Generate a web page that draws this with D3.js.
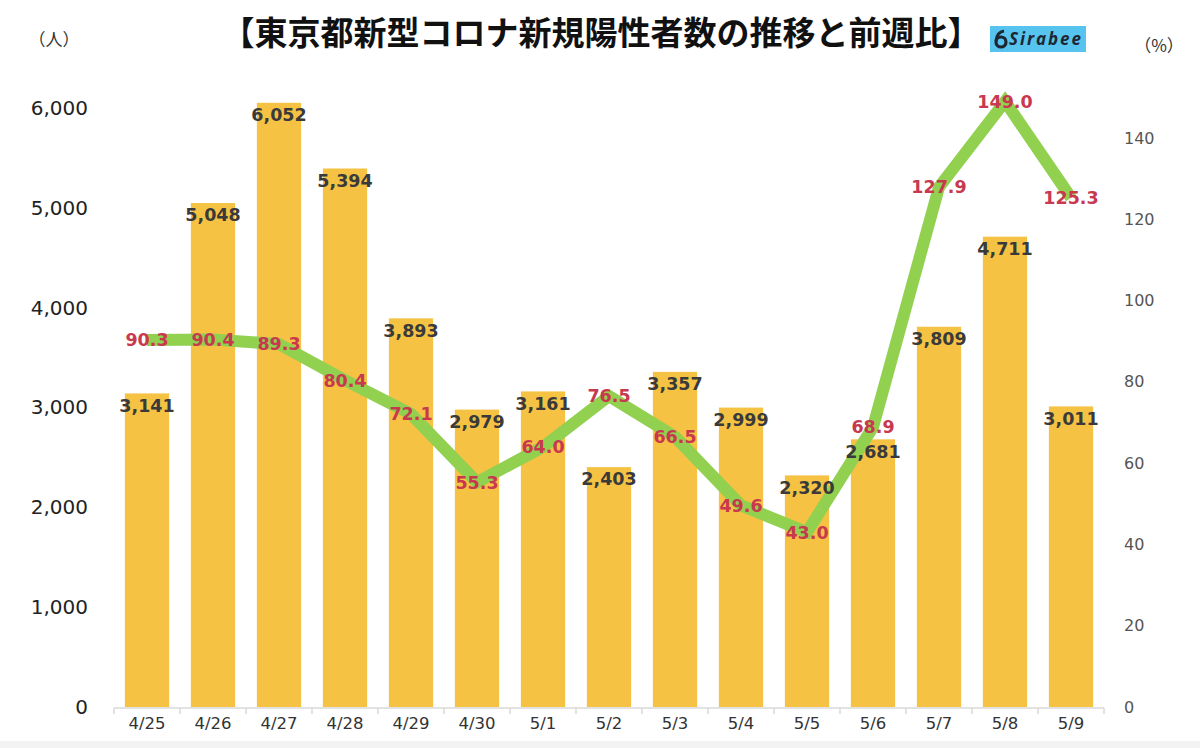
<!DOCTYPE html>
<html><head><meta charset="utf-8">
<script src="https://cdn.jsdelivr.net/npm/d3@7"></script>
<style>body{margin:0;background:#fff}svg{display:block}</style>
</head><body>
<script>
const categories = ["4/25","4/26","4/27","4/28","4/29","4/30","5/1","5/2","5/3","5/4","5/5","5/6","5/7","5/8","5/9"];
const positives = [3141,5048,6052,5394,3893,2979,3161,2403,3357,2999,2320,2681,3809,4711,3011];
const weekRatio = [90.3,90.4,89.3,80.4,72.1,55.3,64.0,76.5,66.5,49.6,43.0,68.9,127.9,149.0,125.3];
const leftTicks = [0,1000,2000,3000,4000,5000,6000];
const rightTicks = [0,20,40,60,80,100,120,140];
const title = "【東京都新型コロナ新規陽性者数の推移と前週比】";

const W = 1200, H = 748;
const svg = d3.select("body").append("svg").attr("width", W).attr("height", H);
svg.append("rect").attr("x",0).attr("y",0).attr("width",W).attr("height",H).attr("fill","#fff");
svg.append("rect").attr("x",0).attr("y",741).attr("width",W).attr("height",7).attr("fill","#f3f3f3");

const x = d3.scaleBand().domain(categories).range([114,1104]).paddingInner(0.33).paddingOuter(0.165);
const yL = d3.scaleLinear().domain([0,6000]).range([707,108]);
const yR = d3.scaleLinear().domain([0,140]).range([707,138]);

const numFont = "'DejaVu Sans', sans-serif";

// bars
svg.append("g").selectAll("rect").data(positives).join("rect")
  .attr("x",(d,i)=>x(categories[i]))
  .attr("y",d=>yL(d))
  .attr("width",x.bandwidth())
  .attr("height",d=>yL(0)-yL(d))
  .attr("fill","#F5C243");

// x axis baseline & ticks
const xg = svg.append("g");
xg.append("line").attr("x1",114).attr("x2",1104).attr("y1",708).attr("y2",708).attr("stroke","#d9d9d9").attr("stroke-width",1.5);
const bounds = categories.map(c=>x(c)-x.step()*x.paddingInner()/2).concat([1104]);
xg.selectAll("line.t").data(bounds).join("line").attr("class","t")
  .attr("x1",d=>d).attr("x2",d=>d).attr("y1",708).attr("y2",714).attr("stroke","#d9d9d9").attr("stroke-width",1.5);
const xAxis = d3.axisBottom(x).tickSize(0).tickPadding(9);
const xa = svg.append("g").attr("transform","translate(0,708)").call(xAxis);
xa.select(".domain").remove();
xa.selectAll("text").attr("font-family",numFont).attr("font-size",16.5).attr("fill","#333");

// left axis
const la = svg.append("g").attr("transform","translate(88,0)")
  .call(d3.axisLeft(yL).tickValues(leftTicks).tickFormat(d3.format(",")).tickSize(0).tickPadding(0));
la.select(".domain").remove();
la.selectAll("text").attr("font-family",numFont).attr("font-size",20).attr("fill","#222");

// right axis
const ra = svg.append("g").attr("transform","translate(1124,0)")
  .call(d3.axisRight(yR).tickValues(rightTicks).tickSize(0).tickPadding(0));
ra.select(".domain").remove();
ra.selectAll("text").attr("font-family",numFont).attr("font-size",16).attr("fill","#555");

// line
const line = d3.line().x((d,i)=>x(categories[i])+x.bandwidth()/2).y(d=>yR(d));
svg.append("path").datum(weekRatio).attr("d",line).attr("fill","none")
  .attr("stroke","#92D050").attr("stroke-width",12).attr("stroke-linejoin","miter");

// bar labels
svg.append("g").selectAll("text").data(positives).join("text")
  .attr("x",(d,i)=>x(categories[i])+x.bandwidth()/2)
  .attr("y",d=>yL(d)+12)
  .attr("dy","0.36em")
  .attr("text-anchor","middle")
  .attr("font-family",numFont).attr("font-weight","bold").attr("font-size",17.5)
  .attr("fill","#3a3a3a")
  .text(d=>d3.format(",")(d));

// line labels
svg.append("g").selectAll("text").data(weekRatio).join("text")
  .attr("x",(d,i)=>x(categories[i])+x.bandwidth()/2)
  .attr("y",d=>yR(d))
  .attr("dy","0.36em")
  .attr("text-anchor","middle")
  .attr("font-family",numFont).attr("font-weight","bold").attr("font-size",17.5)
  .attr("fill","#C8384F")
  .text(d=>d3.format(".1f")(d));

// title
svg.append("text").attr("x",601).attr("y",33).attr("dy","0.36em").attr("text-anchor","middle")
  .attr("font-family","'Noto Sans CJK JP', sans-serif").attr("font-weight","bold").attr("font-size",33)
  .attr("fill","#111").text(title);

// unit labels
svg.append("text").attr("x",54).attr("y",40).attr("dy","0.36em").attr("text-anchor","middle")
  .attr("font-family","'Noto Sans CJK JP', sans-serif").attr("font-size",17).attr("fill","#333").text("（人）");
svg.append("text").attr("x",1159).attr("y",46).attr("dy","0.36em").attr("text-anchor","middle")
  .attr("font-family","'Noto Sans CJK JP', sans-serif").attr("font-size",17).attr("fill","#333").text("（%）");

// logo
const lg = svg.append("g");
lg.append("rect").attr("x",990).attr("y",26).attr("width",96).attr("height",26).attr("fill","#56C4EE");
lg.append("circle").attr("cx",1001).attr("cy",42).attr("r",5).attr("fill","none").attr("stroke","#1d2733").attr("stroke-width",3.2);
lg.append("path").attr("d","M996,41 Q997,32 1004,31").attr("fill","none").attr("stroke","#1d2733").attr("stroke-width",3.2);
lg.append("text").attr("x",1009).attr("y",39).attr("dy","0.36em")
  .attr("font-family","'Open Sans', sans-serif").attr("font-weight","bold").attr("font-style","italic")
  .attr("font-size",17).attr("textLength",72).attr("fill","#1d2733").text("Sirabee");
</script>
</body></html>
